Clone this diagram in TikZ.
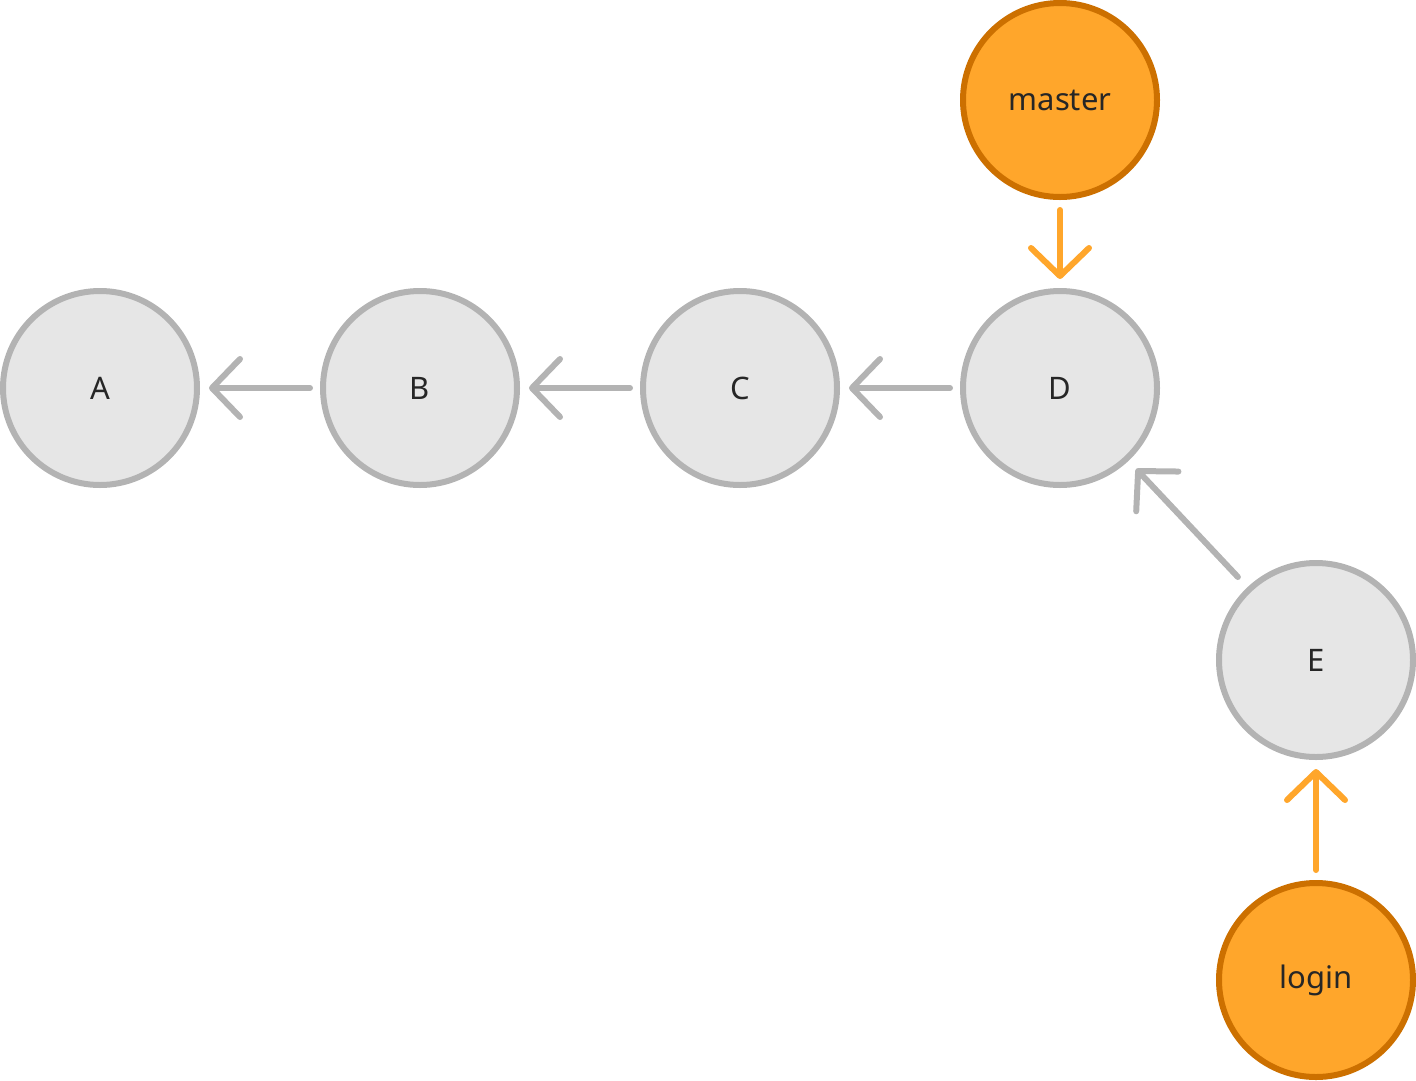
\documentclass[tikz,border=0pt]{standalone}
\usepackage{fontspec}
\setmainfont{Noto Sans}
\usetikzlibrary{arrows.meta}
\definecolor{gfill}{HTML}{E6E6E6}
\definecolor{gline}{HTML}{B3B3B3}
\definecolor{ofill}{HTML}{FFA62B}
\definecolor{oline}{HTML}{CC7000}
\definecolor{txt}{HTML}{262626}
\begin{document}
\begin{tikzpicture}[x=1pt,y=-1pt,
  commit/.style={circle,draw=gline,fill=gfill,line width=6pt,minimum size=194pt,inner sep=0pt,text=txt,font=\fontsize{31}{36}\selectfont},
  branch/.style={commit,draw=oline,fill=ofill},
  link/.style={draw=gline,line width=6pt,line cap=round,shorten <=10pt,shorten >=9pt,-{Straight Barb[length=28pt,width=58pt,round]}},
  blink/.style={link,draw=ofill}]
\useasboundingbox (0,0) rectangle (1416,1080);
\node[commit] (A) at (100,388) {A};
\node[commit] (B) at (420,388) {B};
\node[commit] (C) at (740,388) {C};
\node[commit] (D) at (1060,388) {D};
\node[commit] (E) at (1316,660) {E};
\node[branch] (master) at (1060,100) {master};
\node[branch] (login) at (1316,980) {login};
\draw[link] (B) -- (A);
\draw[link] (C) -- (B);
\draw[link] (D) -- (C);
\draw[link,shorten <=14pt,shorten >=11pt] (E) -- (D);
\draw[blink] (master) -- (D);
\draw[blink] (login) -- (E);
\end{tikzpicture}
\end{document}
